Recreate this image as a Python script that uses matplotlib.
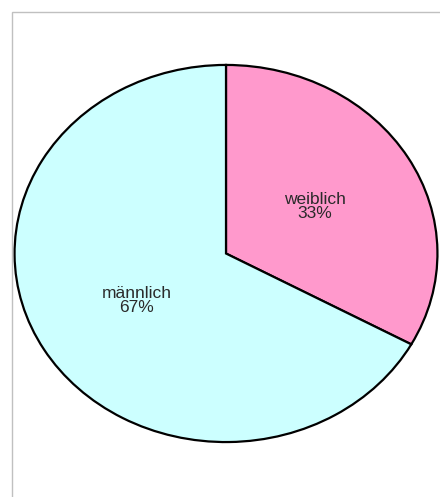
import matplotlib
matplotlib.use('Agg')
import matplotlib.pyplot as plt
from matplotlib.patches import Rectangle

# Data
labels = ['weiblich', 'männlich']
shares = [33, 67]
colors = ['#FF99CC', '#CCFFFF']

W, H = 440, 497
fig = plt.figure(figsize=(W / 100, H / 100), dpi=100)
fig.patch.set_facecolor('white')

# Grey chart frame (runs off the right and bottom edge)
frame = Rectangle((11.5 / W, -0.1), 1.2, (H - 11.5) / H + 0.1,
                  transform=fig.transFigure, fill=False,
                  edgecolor='#c0c0c0', linewidth=1.0)
fig.patches.append(frame)

# Pie is drawn stretched horizontally (aspect not equal)
cx, cy, rx, ry = 226, 253.5, 212.5, 189.5
ax = fig.add_axes([(cx - rx) / W, (H - cy - ry) / H, 2 * rx / W, 2 * ry / H])
texts = [f'{l}\n{s}%' for l, s in zip(labels, shares)]
wedges, txts = ax.pie(shares, labels=texts, colors=colors, startangle=90,
                      counterclock=False, labeldistance=0.49,
                      wedgeprops=dict(edgecolor='black', linewidth=1.6),
                      textprops=dict(fontsize=12.5, family='Liberation Sans',
                                     color='#2a2a2a'))
for t in txts:
    t.set_horizontalalignment('center')
    t.set_verticalalignment('center')
    t.set_multialignment('center')
    t.set_linespacing(0.88)
ax.set_aspect('auto')
ax.set_xlim(-1.005, 1.005)
ax.set_ylim(-1.005, 1.005)
ax.axis('off')

fig.savefig('out.png', dpi=100)
